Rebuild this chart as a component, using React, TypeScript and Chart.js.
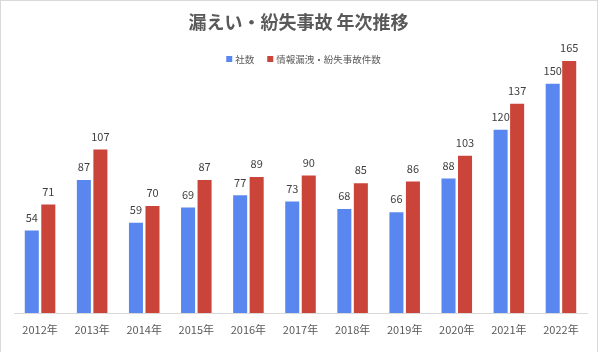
import React, { useEffect, useRef } from "react";
import { Chart, registerables } from "chart.js";

Chart.register(...registerables);

const categories = ["2012年", "2013年", "2014年", "2015年", "2016年", "2017年", "2018年", "2019年", "2020年", "2021年", "2022年"];
const companies = [54, 87, 59, 69, 77, 73, 68, 66, 88, 120, 150];
const incidents = [71, 107, 70, 87, 89, 90, 85, 86, 103, 137, 165];
const seriesNames = ["社数", "情報漏洩・紛失事故件数"];
const titleText = "漏えい・紛失事故 年次推移";

const BLUE = "#5A87EF";
const RED = "#CB443A";
const FONT = "'Noto Sans CJK JP', 'Noto Sans', sans-serif";

export default function App() {
  const ref = useRef<HTMLCanvasElement | null>(null);

  useEffect(() => {
    if (!ref.current) return;

    const frame = {
      id: "frame",
      beforeDraw(chart: any) {
        const ctx = chart.ctx;
        ctx.save();
        ctx.fillStyle = "#ffffff";
        ctx.fillRect(0, 0, chart.width, chart.height);
        ctx.strokeStyle = "#d9d9d9";
        ctx.lineWidth = 1;
        ctx.strokeRect(0.5, 0.5, 597, 370);
        ctx.restore();
      },
      afterDraw(chart: any) {
        const ctx = chart.ctx;
        ctx.save();
        // title
        ctx.font = `bold 18px ${FONT}`;
        ctx.fillStyle = "#595959";
        ctx.textAlign = "center";
        ctx.textBaseline = "middle";
        ctx.fillText(titleText, 298.5, 22);
        // legend
        ctx.font = `9.5px ${FONT}`;
        const box = 6;
        const gapBox = 3;
        const gapItem = 13;
        const colors = chart.data.datasets.map((d: any) => d.backgroundColor);
        const widths = seriesNames.map((n) => ctx.measureText(n).width);
        const total = widths.reduce((a, w) => a + box + gapBox + w, 0) + gapItem * (seriesNames.length - 1);
        let x = 303.5 - total / 2;
        const y = 59;
        ctx.textAlign = "left";
        seriesNames.forEach((n, i) => {
          ctx.fillStyle = colors[i];
          ctx.fillRect(x, y - box / 2, box, box);
          x += box + gapBox;
          ctx.fillStyle = "#595959";
          ctx.fillText(n, x, y);
          x += widths[i] + gapItem;
        });
        ctx.restore();
      },
      afterDatasetsDraw(chart: any) {
        const ctx = chart.ctx;
        ctx.save();
        ctx.font = `11px ${FONT}`;
        ctx.fillStyle = "#404040";
        ctx.textAlign = "center";
        ctx.textBaseline = "middle";
        chart.data.datasets.forEach((ds: any, i: number) => {
          const meta = chart.getDatasetMeta(i);
          meta.data.forEach((el: any, j: number) => {
            ctx.fillText(String(ds.data[j]), el.x, el.y - 13);
          });
        });
        ctx.restore();
      },
    };

    const chart = new Chart(ref.current, {
      type: "bar",
      data: {
        labels: categories,
        datasets: [
          { label: seriesNames[0], data: companies, backgroundColor: BLUE },
          { label: seriesNames[1], data: incidents, backgroundColor: RED },
        ],
      },
      options: {
        animation: false,
        responsive: false,
        layout: { padding: { top: 38, left: 14, right: 12, bottom: 0 } },
        datasets: { bar: { categoryPercentage: 0.634, barPercentage: 0.85 } } as any,
        plugins: {
          legend: { display: false },
          title: { display: false },
          tooltip: { enabled: false },
        },
        scales: {
          x: {
            grid: { display: false, drawTicks: false },
            border: { display: true, color: "#d9d9d9", width: 1 },
            ticks: { color: "#595959", font: { family: FONT, size: 11 }, padding: 10, maxRotation: 0, autoSkip: false },
            afterFit(scale: any) {
              scale.height = 39;
            },
          },
          y: { display: false, min: 0, max: 180 },
        },
      },
      plugins: [frame],
    });

    return () => chart.destroy();
  }, []);

  return (
    <div style={{ position: "fixed", left: 0, top: 0, width: 599, height: 352 }}>
      <canvas ref={ref} width={599} height={352} style={{ display: "block" }} />
    </div>
  );
}
